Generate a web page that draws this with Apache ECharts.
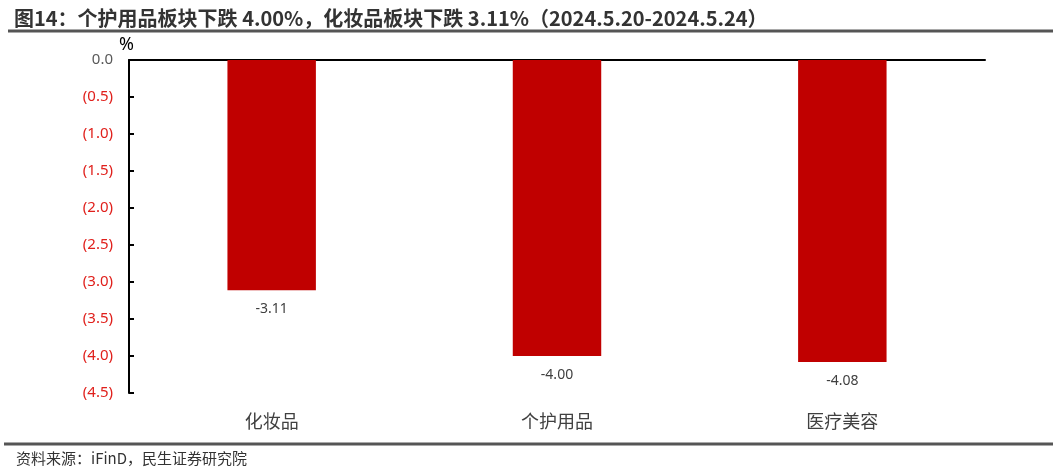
<!DOCTYPE html>
<html><head><meta charset="utf-8">
<script src="https://cdn.jsdelivr.net/npm/echarts@6/dist/echarts.min.js"></script>
<style>html,body{margin:0;padding:0;background:#fff}#c{width:1057px;height:475px}</style>
</head><body><div id="c"></div>
<script>
const categories = ['化妆品', '个护用品', '医疗美容'];
const values = [-3.11, -4.00, -4.08];
const titleText = '图14：个护用品板块下跌 4.00%，化妆品板块下跌 3.11%（2024.5.20-2024.5.24）';
const sourceText = '资料来源：iFinD，民生证券研究院';
const FONT = '"Noto Sans", "Noto Sans CJK SC", sans-serif';

const chart = echarts.init(document.getElementById('c'), null, {renderer: 'canvas'});
chart.setOption({
  backgroundColor: '#fff',
  animation: false,
  title: {
    text: titleText, left: 9, top: 3,
    textStyle: {fontSize: 20, fontWeight: 'bold', color: '#333', fontFamily: '"Noto Sans CJK SC", sans-serif'}
  },
  grid: {left: 129, right: 72, top: 60, bottom: 82},
  xAxis: [{
    type: 'category', data: categories, position: 'bottom',
    axisLine: {show: false}, axisTick: {show: false},
    axisLabel: {fontSize: 18, color: '#404040', margin: 19, fontFamily: '"Noto Sans CJK SC", sans-serif'}
  }, {
    type: 'category', data: categories, position: 'top',
    axisLine: {show: true, lineStyle: {color: '#000', width: 2}},
    axisTick: {show: false}, axisLabel: {show: false}
  }],
  yAxis: {
    type: 'value', min: -4.5, max: 0, interval: 0.5,
    axisLine: {show: true, lineStyle: {color: '#000', width: 2}},
    axisTick: {show: true, inside: true, length: 5, lineStyle: {color: '#000', width: 2}},
    splitLine: {show: false},
    axisLabel: {
      margin: 16, fontSize: 15, fontFamily: FONT,
      formatter: v => v === 0 ? '{z|0.0}' : '{n|(' + Math.abs(v).toFixed(1) + ')}',
      rich: {z: {color: '#595959', fontSize: 15, fontFamily: FONT}, n: {color: '#e0201c', fontSize: 15, fontFamily: FONT}}
    }
  },
  series: [{
    type: 'bar', data: values, barWidth: '31%', xAxisIndex: 0,
    itemStyle: {color: '#c00000'},
    label: {show: true, position: 'bottom', distance: 12, fontSize: 14, color: '#404040', fontFamily: FONT,
      formatter: p => p.value.toFixed(2)}
  }],
  graphic: [
    {type: 'line', shape: {x1: 8, y1: 31, x2: 1053, y2: 31}, style: {stroke: '#555', lineWidth: 3}},
    {type: 'line', shape: {x1: 4, y1: 444, x2: 1053, y2: 444}, style: {stroke: '#555', lineWidth: 3}},
    {type: 'text', left: 119, top: 36, style: {text: '%', fontSize: 18, fill: '#000', fontFamily: FONT}},
    {type: 'text', left: 16, top: 451, style: {text: sourceText, fontSize: 15, fill: '#333', fontFamily: '"Noto Sans CJK SC", sans-serif'}}
  ]
});
</script></body></html>
